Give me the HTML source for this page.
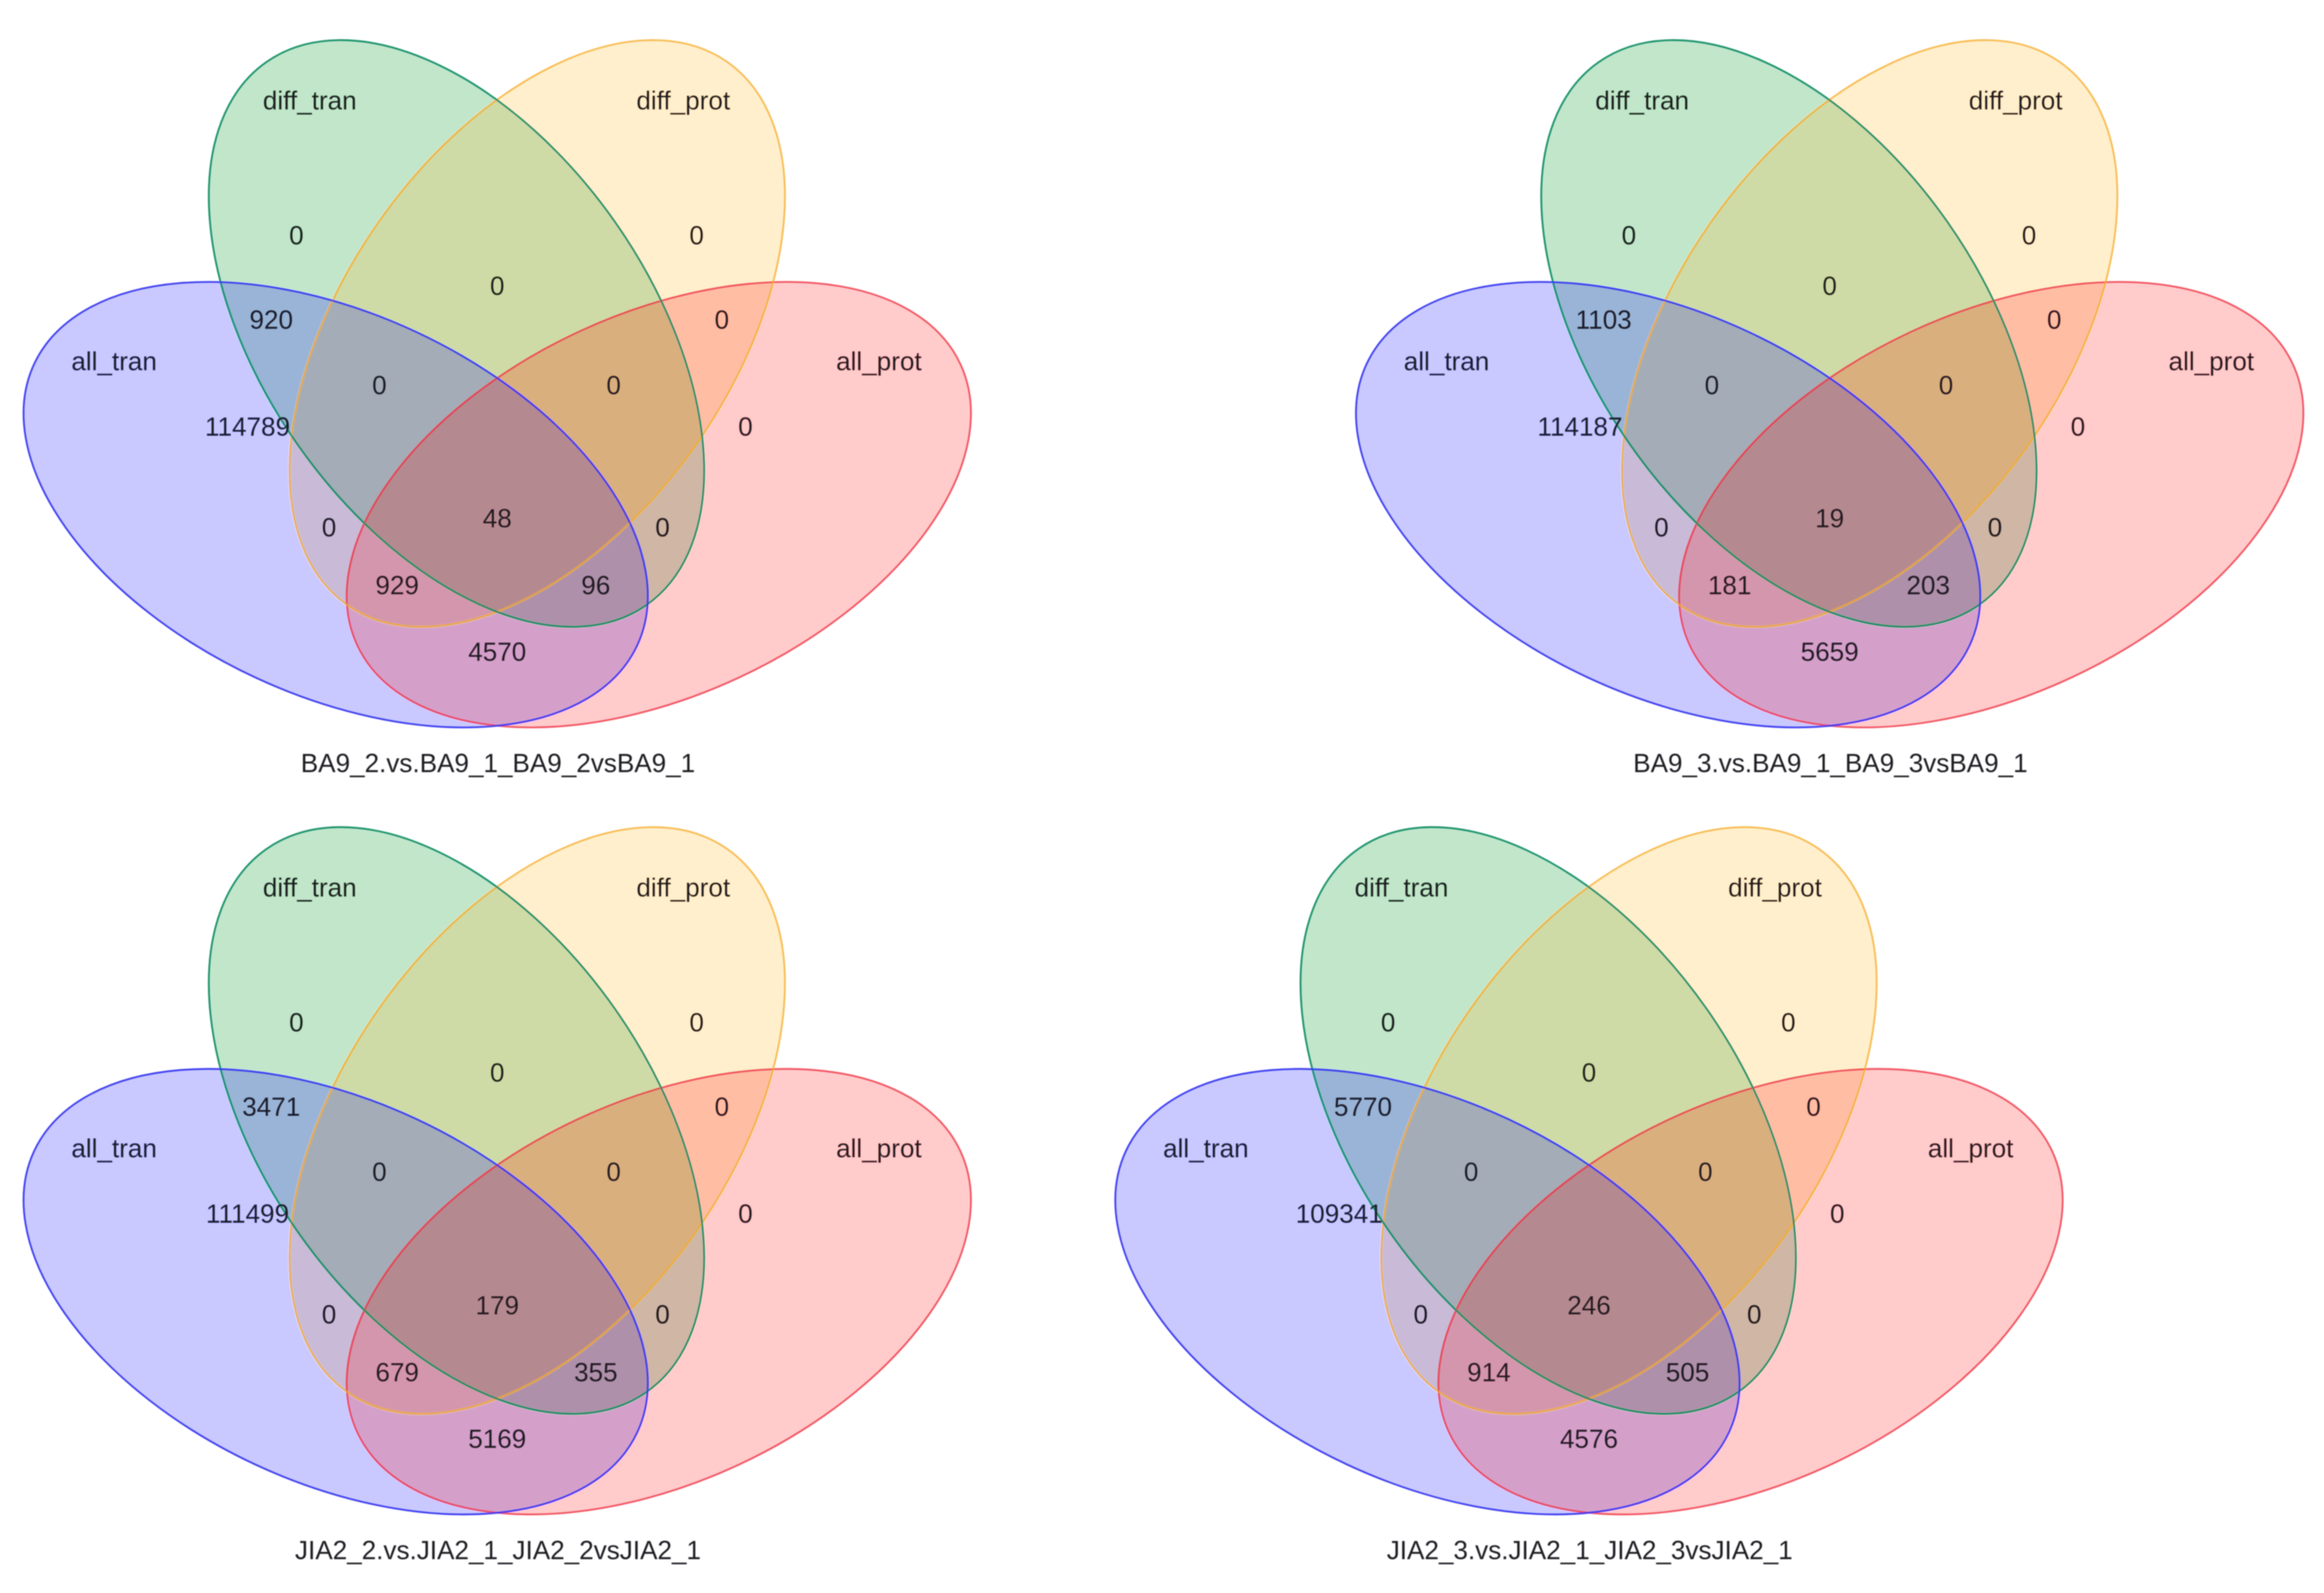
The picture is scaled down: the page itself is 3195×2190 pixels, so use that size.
<!DOCTYPE html>
<html lang="en">
<head>
<meta charset="utf-8">
<title>Four-set Venn diagrams</title>
<style>
html,body{margin:0;padding:0;background:#fff;}
svg{display:block;}
text{font-family:"Liberation Sans",Arial,sans-serif;fill:#1c1c22;text-anchor:middle;dominant-baseline:central;font-size:17.6px;}
</style>
</head>
<body>
<svg id="chart" xmlns="http://www.w3.org/2000/svg" width="3195" height="2190" viewBox="0 0 3195 2190"></svg>
<script>
// Data
const panelTitles = [
  "BA9_2.vs.BA9_1_BA9_2vsBA9_1",
  "BA9_3.vs.BA9_1_BA9_3vsBA9_1",
  "JIA2_2.vs.JIA2_1_JIA2_2vsJIA2_1",
  "JIA2_3.vs.JIA2_1_JIA2_3vsJIA2_1"
];
const setNames = ["diff_tran", "diff_prot", "all_tran", "all_prot"];
const strokeOrder = ["all_prot", "diff_prot", "diff_tran", "all_tran"];
const regionKeys = ["tran-only","prot-only","tran-prot-diff","all-tran-diff-tran","all-prot-diff-prot","all-tran-diff-tran-diff-prot","all-prot-diff-tran-diff-prot","all-tran","all-prot","all-tran-diff-prot","all-four","all-prot-diff-tran","all-tran-prot-diff-prot","all-tran-prot-diff-tran","all-tran-all-prot"];
const countsBA92  = [0,0,0,920,0,0,0,114789,0,0,48,0,929,96,4570];
const countsBA93  = [0,0,0,1103,0,0,0,114187,0,0,19,0,181,203,5659];
const countsJIA22 = [0,0,0,3471,0,0,0,111499,0,0,179,0,679,355,5169];
const countsJIA23 = [0,0,0,5770,0,0,0,109341,0,0,246,0,914,505,4576];
const panelCounts = [countsBA92, countsBA93, countsJIA22, countsJIA23];

// Layout
const SCALE = 2.0376;
const panelOffsets = [{x:0,y:0},{x:899,y:0},{x:0,y:531},{x:736.6,y:531}];
const ellipseShapes = {
  all_prot:  {cx:444.5,cy:340.5,a:224.5,b:128.6,rot:-25,fill:"#ff0000",op:.205,stroke:"#ee3040",so:.8},
  diff_prot: {cx:362.5,cy:225,  a:223.6,b:130.8,rot:-55,fill:"#ffb000",op:.2, stroke:"#f5a820",so:.75},
  all_tran:  {cx:226.5,cy:340.5,a:224.5,b:128.6,rot:25, fill:"#0000ff",op:.21,stroke:"#3535f0",so:.95},
  diff_tran: {cx:308,  cy:225,  a:223.6,b:130.8,rot:55, fill:"#009628",op:.24,stroke:"#0c8c62",so:.95}
};
const setLabelAnchors = {
  all_prot:[593,244], diff_prot:[461,68], all_tran:[77,244], diff_tran:[209,68]
};
const regionAnchors = [[200,159],[470,159],[335.5,193],[183,216],[487,216],[256,260],[414,260],[167,288],[503,288],[222,356],[335.5,350],[447,356],[268,395],[402,395],[335.5,440]];
const titleAnchor = [336,515];

const NS = "http://www.w3.org/2000/svg";
const chart = document.getElementById("chart");

const defs = document.createElementNS(NS, "defs");
defs.innerHTML = '<filter id="soft" x="0" y="0" width="100%" height="100%" filterUnits="userSpaceOnUse"><feGaussianBlur stdDeviation="0.4"/></filter>';
chart.appendChild(defs);

const root = document.createElementNS(NS, "g");
root.setAttribute("transform", "scale(" + SCALE + ")");
root.setAttribute("filter", "url(#soft)");


chart.appendChild(root);

panelTitles.forEach(function (title, p) {
  const g = document.createElementNS(NS, "g");
  g.setAttribute("transform", "translate(" + panelOffsets[p].x + " " + panelOffsets[p].y + ")");
  
  
  root.appendChild(g);

  setNames.forEach(function (name) {
    const s = ellipseShapes[name];
    const e = document.createElementNS(NS, "ellipse");
    e.setAttribute("cx", s.cx);
    e.setAttribute("cy", s.cy);
    e.setAttribute("rx", s.a);
    e.setAttribute("ry", s.b);
    e.setAttribute("transform", "rotate(" + s.rot + " " + s.cx + " " + s.cy + ")");
    e.setAttribute("fill", s.fill);
    e.setAttribute("fill-opacity", s.op);
    
    
    g.appendChild(e);
  });

  strokeOrder.forEach(function (name) {
    const s = ellipseShapes[name];
    const e = document.createElementNS(NS, "ellipse");
    e.setAttribute("cx", s.cx);
    e.setAttribute("cy", s.cy);
    e.setAttribute("rx", s.a);
    e.setAttribute("ry", s.b);
    e.setAttribute("transform", "rotate(" + s.rot + " " + s.cx + " " + s.cy + ")");
    e.setAttribute("fill", "none");
    e.setAttribute("stroke", s.stroke);
    e.setAttribute("stroke-opacity", s.so);
    e.setAttribute("stroke-width", "1.2");
    
    
    g.appendChild(e);
  });

  setNames.forEach(function (name) {
    const t = document.createElementNS(NS, "text");
    t.setAttribute("x", setLabelAnchors[name][0]);
    t.setAttribute("y", setLabelAnchors[name][1]);
    
    
    t.textContent = name;
    g.appendChild(t);
  });

  panelCounts[p].forEach(function (value, i) {
    const t = document.createElementNS(NS, "text");
    t.setAttribute("x", regionAnchors[i][0]);
    t.setAttribute("y", regionAnchors[i][1]);
    
    
    t.textContent = value;
    g.appendChild(t);
  });

  const tt = document.createElementNS(NS, "text");
  tt.setAttribute("x", titleAnchor[0]);
  tt.setAttribute("y", titleAnchor[1]);
  
  
  tt.textContent = title;
  g.appendChild(tt);
});
</script>
</body>
</html>
